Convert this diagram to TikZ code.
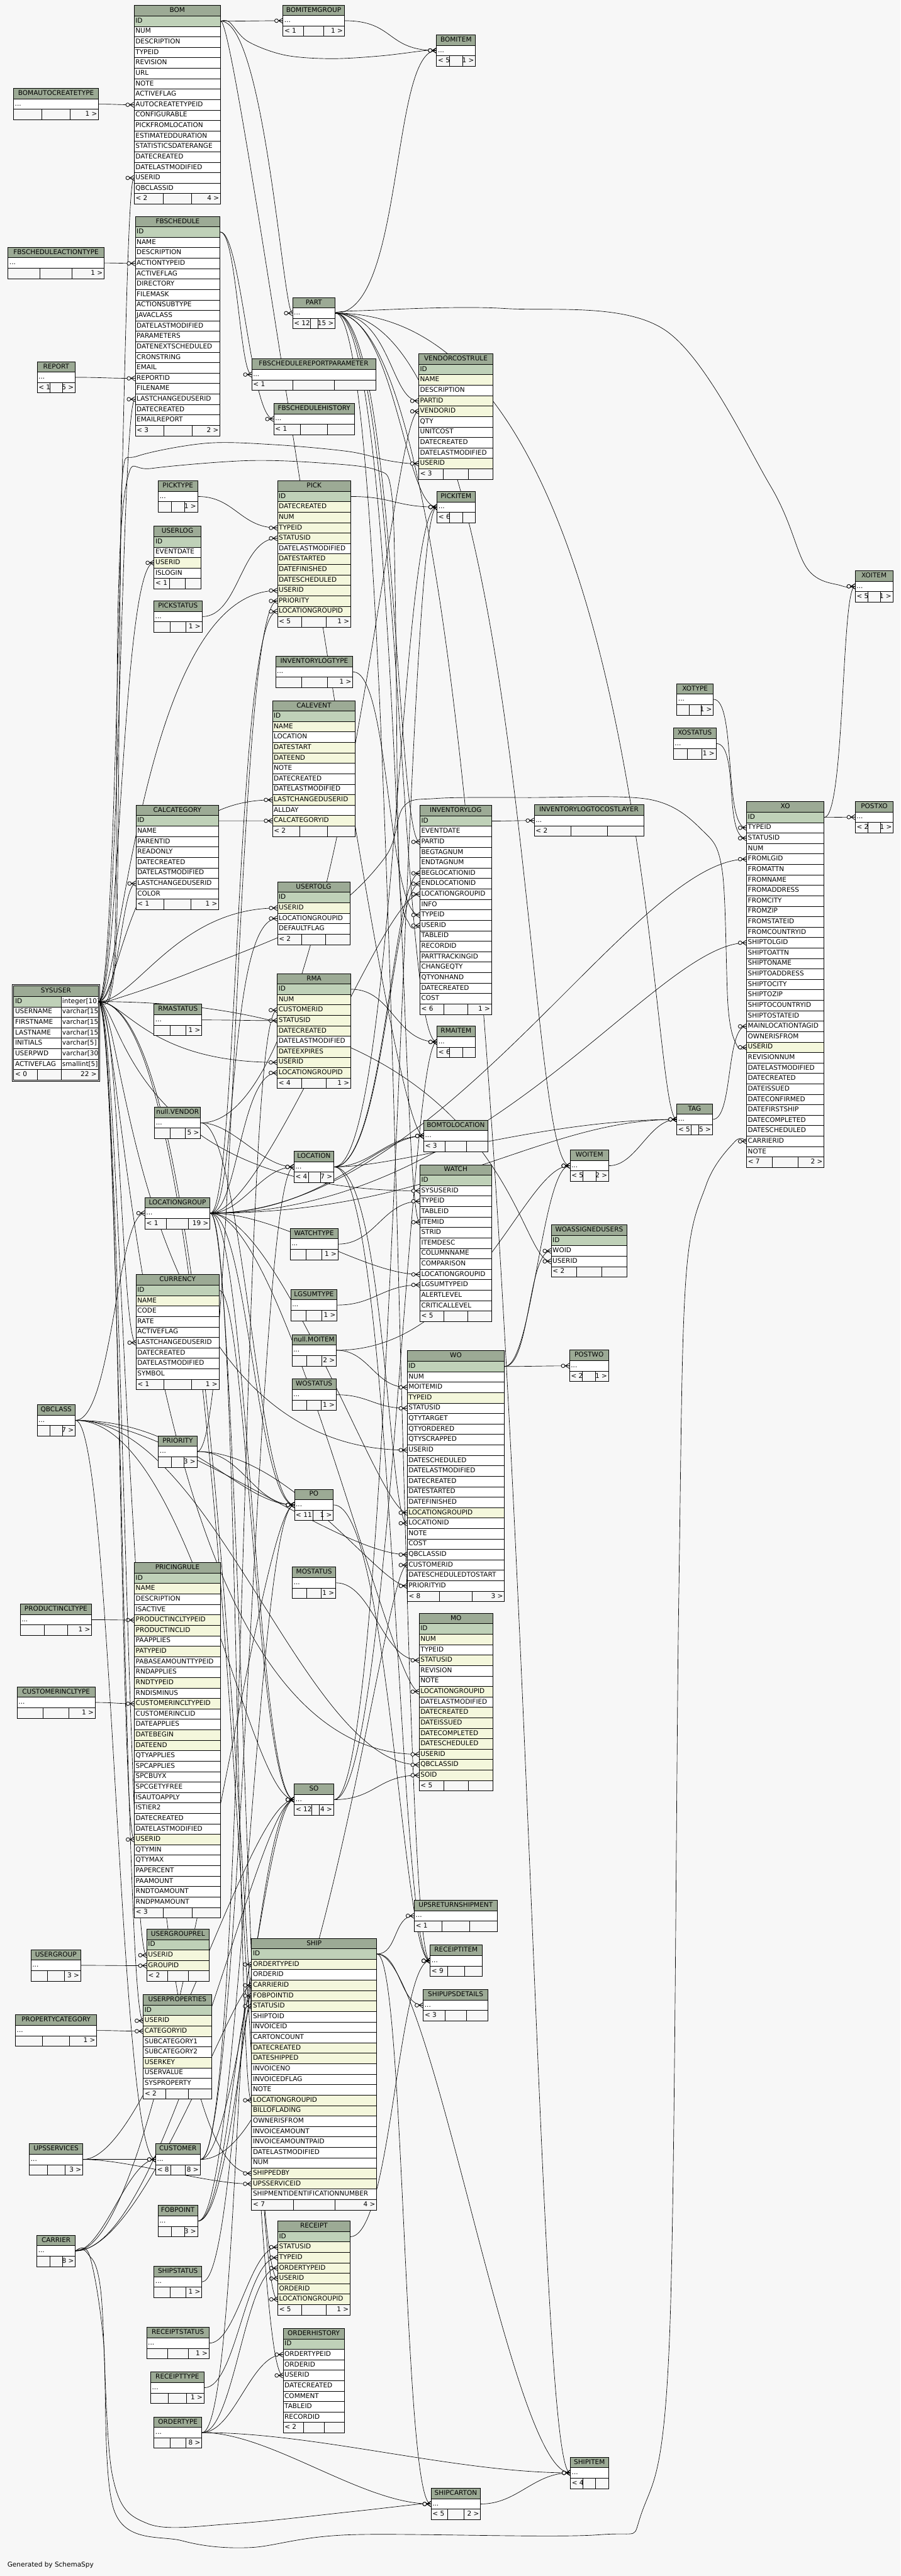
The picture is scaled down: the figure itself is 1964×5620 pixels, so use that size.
\documentclass[tikz,border=0pt]{standalone}
\usepackage{fontspec}
\setmainfont{DejaVu Sans}
\usetikzlibrary{calc}
\definecolor{bgc}{HTML}{F7F7F7}
\definecolor{hdrc}{HTML}{9CAA95}
\definecolor{pk}{HTML}{BFD1B8}
\definecolor{yl}{HTML}{F4F7DC}
\definecolor{wt}{HTML}{FFFFFF}
\pgfdeclarelayer{bglayer}
\pgfdeclarelayer{edgelayer}
\pgfsetlayers{bglayer,edgelayer,main}
\newcommand{\tfont}{\fontsize{14.4}{16}\selectfont}
\newcommand{\dd}{...}
\def\rh{22.8}
\newcount\nrows
\tikzset{
  tbl/.style={draw=black, line width=1.1pt},
  cell/.style={tbl, inner xsep=3pt, inner ysep=0pt, minimum height=22.8pt, text height=10.6pt, text depth=3.2pt, align=left, font=\tfont},
  hdr/.style={cell, fill=hdrc, align=center},
  ftr/.style={tbl, fill=bgc, minimum height=22.8pt, inner sep=0pt},
  ftxt/.style={inner xsep=2pt, inner ysep=0pt, font=\tfont, text height=10.6pt, text depth=3.2pt},
  fkl/.style={draw=black, line width=0.9pt},
  mk/.style={draw=black, line width=1.1pt}
}
% table: [dividers]{id}{x}{y}{w}{title}{rows}{footer left}{footer right}
\newcommand{\dbt}[9][0.3333/0.6667]{%
  \pgfmathsetmacro\tw{#5-6}%
  \node[hdr, text width=\tw pt] (#2) at ({#3+#5/2},{#4+0.5*\rh}) {#6};%
  \foreach[count=\i] \rc/\rt in {#7}{%
    \node[cell, fill=\rc, text width=\tw pt] (#2-\i) at ({#3+#5/2},{#4+(\i+0.5)*\rh}) {\rt};%
    \global\nrows=\i\relax}%
  \pgfmathsetmacro\fy{#4+(\the\nrows+1.5)*\rh}%
  \node[ftr, minimum width=#5pt] (#2-f) at ({#3+#5/2},\fy) {};%
  \foreach \fa/\fb in {#1}{%
    \draw[tbl] ({#3+\fa*#5},{\fy-\rh/2}) -- ({#3+\fa*#5},{\fy+\rh/2});%
    \draw[tbl] ({#3+\fb*#5},{\fy-\rh/2}) -- ({#3+\fb*#5},{\fy+\rh/2});}%
  \node[ftxt, anchor=west] (#2-fl) at ({#3+1},\fy) {#8};%
  \node[ftxt, anchor=east] (#2-fr) at ({#3+#5-1},\fy) {#9};%
}
\newcommand{\crow}[1]{\draw[mk] (#1.west) ++(-9,0) -- ++(9,-5.5) (#1.west) ++(-9,0) -- ++(9,0) (#1.west) ++(-9,0) -- ++(9,5.5); \draw[mk, fill=bgc] (#1.west) ++(-13.5,0) circle[radius=4pt];}
\newcommand{\fk}[4]{\draw[fkl] (#1.east) .. controls +(#3,0) and +(-#4,0) .. (#2.west); \crow{#2}}
\newcommand{\fkw}[3]{\draw[fkl] plot[smooth, tension=0.55] coordinates {(#1.east) #3 (#2.west)}; \crow{#2}}
\begin{document}
\begin{tikzpicture}[x=1pt, y=-1pt]
\begin{pgfonlayer}{bglayer}
\fill[bgc] (0,0) rectangle (1964,5620);
\end{pgfonlayer}
\useasboundingbox (0,0) rectangle (1964,5620);

% ---------------- tables ----------------
\dbt{bom}{292.5}{12}{188.5}{BOM}{pk/ID,wt/NUM,wt/DESCRIPTION,wt/TYPEID,wt/REVISION,wt/URL,wt/NOTE,wt/ACTIVEFLAG,wt/AUTOCREATETYPEID,wt/CONFIGURABLE,wt/PICKFROMLOCATION,wt/ESTIMATEDDURATION,wt/STATISTICSDATERANGE,wt/DATECREATED,wt/DATELASTMODIFIED,wt/USERID,wt/QBCLASSID}{< 2}{4 >}
\dbt{bomitemgroup}{617}{11}{134}{BOMITEMGROUP}{wt/\dd}{< 1}{1 >}
\dbt{bomitem}{952}{76}{85}{BOMITEM}{wt/\dd}{< 5}{1 >}
\dbt{bomautocreatetype}{29.5}{193}{185.5}{BOMAUTOCREATETYPE}{wt/\dd}{}{1 >}
\dbt{fbschedule}{295}{472}{185}{FBSCHEDULE}{pk/ID,wt/NAME,wt/DESCRIPTION,wt/ACTIONTYPEID,wt/ACTIVEFLAG,wt/DIRECTORY,wt/FILEMASK,wt/ACTIONSUBTYPE,wt/JAVACLASS,wt/DATELASTMODIFIED,wt/PARAMETERS,wt/DATENEXTSCHEDULED,wt/CRONSTRING,wt/EMAIL,wt/REPORTID,wt/FILENAME,wt/LASTCHANGEDUSERID,wt/DATECREATED,wt/EMAILREPORT}{< 3}{2 >}
\dbt{fbscheduleactiontype}{17.5}{539.5}{209.5}{FBSCHEDULEACTIONTYPE}{wt/\dd}{}{1 >}
\dbt{report}{81}{789}{83}{REPORT}{wt/\dd}{< 1}{5 >}
\dbt[0.42/0.59]{part}{638}{649}{93}{PART}{wt/\dd}{< 12}{15 >}
\dbt{fbschedulereportparameter}{549}{783}{270}{FBSCHEDULEREPORTPARAMETER}{wt/\dd}{< 1}{}
\dbt{fbschedulehistory}{597}{880}{176}{FBSCHEDULEHISTORY}{wt/\dd}{< 1}{}
\dbt{vendorcostrule}{913}{772}{162}{VENDORCOSTRULE}{pk/ID,yl/NAME,wt/DESCRIPTION,yl/PARTID,yl/VENDORID,wt/QTY,wt/UNITCOST,wt/DATECREATED,wt/DATELASTMODIFIED,yl/USERID}{< 3}{}
\dbt{picktype}{345}{1049}{86}{PICKTYPE}{wt/\dd}{}{1 >}
\dbt{pick}{605}{1049}{160}{PICK}{pk/ID,yl/DATECREATED,yl/NUM,yl/TYPEID,yl/STATUSID,wt/DATELASTMODIFIED,yl/DATESTARTED,yl/DATEFINISHED,yl/DATESCHEDULED,yl/USERID,yl/PRIORITY,yl/LOCATIONGROUPID}{< 5}{1 >}
\dbt{pickitem}{953}{1072}{83}{PICKITEM}{wt/\dd}{< 6}{}
\dbt{userlog}{336}{1148}{102}{USERLOG}{pk/ID,wt/EVENTDATE,yl/USERID,wt/ISLOGIN}{< 1}{}
\dbt{pickstatus}{335.5}{1311}{105}{PICKSTATUS}{wt/\dd}{}{1 >}
\dbt{inventorylogtype}{601}{1431.5}{168.5}{INVENTORYLOGTYPE}{wt/\dd}{}{1 >}
\dbt{calevent}{594}{1528.5}{181}{CALEVENT}{pk/ID,yl/NAME,wt/LOCATION,yl/DATESTART,yl/DATEEND,wt/NOTE,wt/DATECREATED,wt/DATELASTMODIFIED,yl/LASTCHANGEDUSERID,wt/ALLDAY,yl/CALCATEGORYID}{< 2}{}
\dbt{calcategory}{296.5}{1756.5}{180.5}{CALCATEGORY}{pk/ID,wt/NAME,wt/PARENTID,wt/READONLY,wt/DATECREATED,wt/DATELASTMODIFIED,wt/LASTCHANGEDUSERID,wt/COLOR}{< 1}{1 >}
\dbt{usertolg}{605}{1924}{158}{USERTOLG}{pk/ID,yl/USERID,wt/LOCATIONGROUPID,wt/DEFAULTFLAG}{< 2}{}
\dbt{inventorylog}{915.6}{1757}{156.4}{INVENTORYLOG}{pk/ID,wt/EVENTDATE,wt/PARTID,wt/BEGTAGNUM,wt/ENDTAGNUM,wt/BEGLOCATIONID,wt/ENDLOCATIONID,wt/LOCATIONGROUPID,wt/INFO,wt/TYPEID,wt/USERID,wt/TABLEID,wt/RECORDID,wt/PARTTRACKINGID,wt/CHANGEQTY,wt/QTYONHAND,wt/DATECREATED,wt/COST}{< 6}{1 >}
\dbt{xoitem}{1865}{1245}{82}{XOITEM}{wt/\dd}{< 5}{1 >}
\dbt{xotype}{1476}{1491.5}{79.5}{XOTYPE}{wt/\dd}{}{1 >}
\dbt{xostatus}{1468.5}{1588}{93}{XOSTATUS}{wt/\dd}{}{1 >}
\dbt{inventorylogtocostlayer}{1165}{1756}{238.5}{INVENTORYLOGTOCOSTLAYER}{wt/\dd}{< 2}{}
\dbt{xo}{1628}{1749}{169}{XO}{pk/ID,wt/TYPEID,wt/STATUSID,wt/NUM,wt/FROMLGID,wt/FROMATTN,wt/FROMNAME,wt/FROMADDRESS,wt/FROMCITY,wt/FROMZIP,wt/FROMSTATEID,wt/FROMCOUNTRYID,wt/SHIPTOLGID,wt/SHIPTOATTN,wt/SHIPTONAME,wt/SHIPTOADDRESS,wt/SHIPTOCITY,wt/SHIPTOZIP,wt/SHIPTOCOUNTRYID,wt/SHIPTOSTATEID,wt/MAINLOCATIONTAGID,wt/OWNERISFROM,yl/USERID,wt/REVISIONNUM,wt/DATELASTMODIFIED,wt/DATECREATED,wt/DATEISSUED,wt/DATECONFIRMED,wt/DATEFIRSTSHIP,wt/DATECOMPLETED,wt/DATESCHEDULED,wt/CARRIERID,wt/NOTE}{< 7}{2 >}
\dbt{postxo}{1865}{1748.5}{83}{POSTXO}{wt/\dd}{< 2}{1 >}
\dbt{rmastatus}{335.7}{2191}{104.5}{RMASTATUS}{wt/\dd}{}{1 >}
\dbt{rma}{604.6}{2124}{160.4}{RMA}{pk/ID,yl/NUM,yl/CUSTOMERID,yl/STATUSID,yl/DATECREATED,wt/DATELASTMODIFIED,yl/DATEEXPIRES,yl/USERID,yl/LOCATIONGROUPID}{< 4}{1 >}
\dbt{nullvendor}{337}{2415.5}{100.5}{null.VENDOR}{wt/\dd}{}{5 >}
\dbt{rmaitem}{953}{2239}{83}{RMAITEM}{wt/\dd}{< 6}{}
\dbt{bomtolocation}{924}{2444}{140}{BOMTOLOCATION}{wt/\dd}{< 3}{}
\dbt[0.40/0.62]{tag}{1476}{2408}{77.5}{TAG}{wt/\dd}{< 5}{5 >}
\dbt[0.36/0.67]{location}{641}{2511.6}{87}{LOCATION}{wt/\dd}{< 4}{7 >}
\dbt{locationgroup}{316}{2612.5}{142}{LOCATIONGROUP}{wt/\dd}{< 1}{19 >}
\dbt{woitem}{1243}{2509}{84.5}{WOITEM}{wt/\dd}{< 5}{2 >}
\dbt{watch}{915.6}{2541}{156.4}{WATCH}{pk/ID,wt/SYSUSERID,wt/TYPEID,wt/TABLEID,wt/ITEMID,wt/STRID,wt/ITEMDESC,wt/COLUMNNAME,wt/COMPARISON,wt/LOCATIONGROUPID,wt/LGSUMTYPEID,wt/ALERTLEVEL,wt/CRITICALLEVEL}{< 5}{}
\dbt{watchtype}{632.7}{2680}{104.3}{WATCHTYPE}{wt/\dd}{}{1 >}
\dbt{woassignedusers}{1202}{2672}{165.5}{WOASSIGNEDUSERS}{pk/ID,wt/WOID,wt/USERID}{< 2}{}
\dbt{lgsumtype}{634}{2813}{101}{LGSUMTYPE}{wt/\dd}{}{1 >}
\dbt{currency}{296.6}{2781}{181}{CURRENCY}{pk/ID,yl/NAME,wt/CODE,wt/RATE,wt/ACTIVEFLAG,wt/LASTCHANGEDUSERID,wt/DATECREATED,wt/DATELASTMODIFIED,wt/SYMBOL}{< 1}{1 >}
\dbt{nullmoitem}{636.5}{2911.6}{97}{null.MOITEM}{wt/\dd}{}{2 >}
\dbt{wo}{888}{2947}{212}{WO}{pk/ID,wt/NUM,wt/MOITEMID,yl/TYPEID,wt/STATUSID,wt/QTYTARGET,wt/QTYORDERED,wt/QTYSCRAPPED,wt/USERID,wt/DATESCHEDULED,wt/DATELASTMODIFIED,wt/DATECREATED,wt/DATESTARTED,wt/DATEFINISHED,yl/LOCATIONGROUPID,wt/LOCATIONID,wt/NOTE,wt/COST,wt/QBCLASSID,wt/CUSTOMERID,wt/DATESCHEDULEDTOSTART,wt/PRIORITYID}{< 8}{3 >}
\dbt{postwo}{1242}{2945.6}{85}{POSTWO}{wt/\dd}{< 2}{1 >}
\dbt{wostatus}{636.6}{3008.6}{96.4}{WOSTATUS}{wt/\dd}{}{1 >}
\dbt{qbclass}{81}{3064.5}{83}{QBCLASS}{wt/\dd}{}{7 >}
\dbt{priority}{345.5}{3132.5}{84}{PRIORITY}{wt/\dd}{}{3 >}
\dbt[0.48/0.72]{po}{642}{3249}{85}{PO}{wt/\dd}{< 11}{1 >}
\dbt{mostatus}{637.5}{3419}{94.5}{MOSTATUS}{wt/\dd}{}{1 >}
\dbt{pricingrule}{293}{3409}{188}{PRICINGRULE}{pk/ID,yl/NAME,wt/DESCRIPTION,wt/ISACTIVE,yl/PRODUCTINCLTYPEID,yl/PRODUCTINCLID,wt/PAAPPLIES,yl/PATYPEID,wt/PABASEAMOUNTTYPEID,wt/RNDAPPLIES,yl/RNDTYPEID,wt/RNDISMINUS,yl/CUSTOMERINCLTYPEID,wt/CUSTOMERINCLID,wt/DATEAPPLIES,yl/DATEBEGIN,yl/DATEEND,wt/QTYAPPLIES,wt/SPCAPPLIES,wt/SPCBUYX,wt/SPCGETYFREE,wt/ISAUTOAPPLY,wt/ISTIER2,wt/DATECREATED,wt/DATELASTMODIFIED,yl/USERID,wt/QTYMIN,wt/QTYMAX,wt/PAPERCENT,wt/PAAMOUNT,wt/RNDTOAMOUNT,wt/RNDPMAMOUNT}{< 3}{}
\dbt{productincltype}{44}{3499.5}{156}{PRODUCTINCLTYPE}{wt/\dd}{}{1 >}
\dbt{mo}{914}{3519.6}{161}{MO}{pk/ID,yl/NUM,wt/TYPEID,yl/STATUSID,wt/REVISION,wt/NOTE,yl/LOCATIONGROUPID,wt/DATELASTMODIFIED,yl/DATECREATED,yl/DATEISSUED,yl/DATECOMPLETED,yl/DATESCHEDULED,yl/USERID,yl/QBCLASSID,yl/SOID}{< 5}{}
\dbt{customerincltype}{37.4}{3680}{170}{CUSTOMERINCLTYPE}{wt/\dd}{}{1 >}
\dbt[0.45/0.64]{so}{641.7}{3892}{86}{SO}{wt/\dd}{< 12}{4 >}
\dbt{upsreturnshipment}{903.5}{4145.4}{180.5}{UPSRETURNSHIPMENT}{wt/\dd}{< 1}{}
\dbt{usergrouprel}{320}{4208.6}{136}{USERGROUPREL}{pk/ID,yl/USERID,yl/GROUPID}{< 2}{}
\dbt{usergroup}{67.5}{4253.5}{108.5}{USERGROUP}{wt/\dd}{}{3 >}
\dbt{ship}{548.6}{4228.7}{273}{SHIP}{pk/ID,yl/ORDERTYPEID,wt/ORDERID,yl/CARRIERID,yl/FOBPOINTID,yl/STATUSID,wt/SHIPTOID,wt/INVOICEID,wt/CARTONCOUNT,yl/DATECREATED,yl/DATESHIPPED,wt/INVOICENO,wt/INVOICEDFLAG,wt/NOTE,yl/LOCATIONGROUPID,yl/BILLOFLADING,wt/OWNERISFROM,wt/INVOICEAMOUNT,wt/INVOICEAMOUNTPAID,wt/DATELASTMODIFIED,wt/NUM,yl/SHIPPEDBY,yl/UPSSERVICEID,wt/SHIPMENTIDENTIFICATIONNUMBER}{< 7}{4 >}
\dbt{receiptitem}{938}{4243.5}{113}{RECEIPTITEM}{wt/\dd}{< 9}{}
\dbt{shipupsdetails}{923}{4340.6}{141}{SHIPUPSDETAILS}{wt/\dd}{< 3}{}
\dbt{userproperties}{312.4}{4351.6}{148.6}{USERPROPERTIES}{pk/ID,yl/USERID,yl/CATEGORYID,wt/SUBCATEGORY1,wt/SUBCATEGORY2,yl/USERKEY,wt/USERVALUE,wt/SYSPROPERTY}{< 2}{}
\dbt{propertycategory}{33.7}{4395.6}{177.3}{PROPERTYCATEGORY}{wt/\dd}{}{1 >}
\dbt{upsservices}{64}{4677}{116.4}{UPSSERVICES}{wt/\dd}{}{3 >}
\dbt{customer}{339.6}{4677}{96.8}{CUSTOMER}{wt/\dd}{< 8}{8 >}
\dbt{fobpoint}{344.6}{4811.5}{86.4}{FOBPOINT}{wt/\dd}{}{3 >}
\dbt{carrier}{80.4}{4876.4}{84}{CARRIER}{wt/\dd}{}{8 >}
\dbt{receipt}{605.7}{4845.5}{157.7}{RECEIPT}{pk/ID,yl/STATUSID,yl/TYPEID,yl/ORDERTYPEID,yl/USERID,yl/ORDERID,yl/LOCATIONGROUPID}{< 5}{1 >}
\dbt{shipstatus}{335.8}{4944}{104.2}{SHIPSTATUS}{wt/\dd}{}{1 >}
\dbt{receiptstatus}{319.7}{5077.7}{136.3}{RECEIPTSTATUS}{wt/\dd}{}{1 >}
\dbt{orderhistory}{617.4}{5079.8}{133.6}{ORDERHISTORY}{pk/ID,wt/ORDERTYPEID,wt/ORDERID,wt/USERID,wt/DATECREATED,wt/COMMENT,wt/TABLEID,wt/RECORDID}{< 2}{}
\dbt{receipttype}{328.5}{5175}{116.5}{RECEIPTTYPE}{wt/\dd}{}{1 >}
\dbt{ordertype}{335.8}{5272.8}{104.2}{ORDERTYPE}{wt/\dd}{}{8 >}
\dbt{shipitem}{1243.8}{5360.7}{83}{SHIPITEM}{wt/\dd}{< 4}{}
\dbt{shipcarton}{940}{5428.6}{108}{SHIPCARTON}{wt/\dd}{< 5}{2 >}

% SYSUSER (two columns, double border)
\node[hdr, text width=178pt] (sysuser) at (122,{2151+0.5*\rh}) {SYSUSER};
\foreach[count=\i] \rc/\rn/\ry in {pk/ID/integer[10],wt/USERNAME/varchar[15],wt/FIRSTNAME/varchar[15],wt/LASTNAME/varchar[15],wt/INITIALS/varchar[5],wt/USERPWD/varchar[30],wt/ACTIVEFLAG/smallint[5]}{
  \node[cell, fill=\rc, text width=178pt] (sysuser-\i) at (122,{2151+(\i+0.5)*\rh}) {\rn};
  \fill[white] (133.6,{2151+\i*\rh}) rectangle (214,{2151+(\i+1)*\rh});
  \begin{scope}
    \clip (133.6,{2151+\i*\rh}) rectangle (213,{2151+(\i+1)*\rh});
    \node[ftxt, anchor=west] (sysuser-t\i) at (133.6,{2151+(\i+0.5)*\rh}) {\ry};
  \end{scope}
  \draw[tbl] (133.6,{2151+\i*\rh}) rectangle (214,{2151+(\i+1)*\rh});
}
\node[ftr, minimum width=184pt] (sysuser-f) at (122,{2151+8.5*\rh}) {};
\draw[tbl] (81.6,{2151+8*\rh}) -- (81.6,{2151+9*\rh});
\draw[tbl] (133.6,{2151+8*\rh}) -- (133.6,{2151+9*\rh});
\node[ftxt, anchor=west] (sysuser-fl) at (31,{2151+8.5*\rh}) {< 0};
\node[ftxt, anchor=east] (sysuser-fr) at (213,{2151+8.5*\rh}) {22 >};
\draw[line width=1.8pt] (26.5,2147.5) rectangle (217.5,{2151+9*\rh+3.5});

\node[ftxt, anchor=west] (gen) at (14,5596) {Generated by SchemaSpy};

% ---------------- relationships ----------------
\begin{pgfonlayer}{edgelayer}
% BOM
\fk{bom-1}{bomitemgroup-1}{50}{50}
\fk{bomitemgroup-1}{bomitem-1}{110}{110}
\fkw{bom-1}{bomitem-1}{(500,48) (540,90) (620,120) (720,128) (830,122) (930,110)}
\fk{bom-1}{part-1}{95}{20}
\fk{bom-1}{bomtolocation-1}{40}{80}
\fk{bomautocreatetype-1}{bom-9}{35}{35}
\fk{sysuser-1}{bom-16}{45}{25}
% FBSCHEDULE
\fk{fbscheduleactiontype-1}{fbschedule-4}{30}{30}
\fk{report-1}{fbschedule-15}{60}{60}
\fk{sysuser-1}{fbschedule-17}{45}{30}
\fk{fbschedule-1}{fbschedulereportparameter-1}{35}{25}
\fk{fbschedule-1}{fbschedulehistory-1}{45}{50}
% PART children
\fk{part-1}{vendorcostrule-4}{120}{60}
\fk{part-1}{pickitem-1}{130}{70}
\fk{part-1}{inventorylog-3}{130}{50}
\fk{part-1}{bomitem-1}{150}{100}
\fkw{part-1}{xoitem-1}{(780,678) (1100,673) (1450,720) (1680,1060) (1760,1240) (1835,1278)}
\fk{part-1}{rmaitem-1}{140}{80}
\fk{part-1}{tag-1}{690}{60}
\fk{part-1}{woitem-1}{420}{100}
\fk{part-1}{receiptitem-1}{140}{70}
\fk{part-1}{shipitem-1}{420}{100}
\fk{part-1}{watch-5}{140}{40}
% VENDORCOSTRULE
\fk{nullvendor-1}{vendorcostrule-5}{300}{60}
\fkw{sysuser-1}{vendorcostrule-10}{(240,2175) (255,2000) (262,1300) (268,1030) (300,995) (449,967) (596,970) (760,985) (842,1004) (890,1011)}
% PICK
\fk{picktype-1}{pick-4}{80}{80}
\fk{pickstatus-1}{pick-5}{80}{80}
\fk{sysuser-1}{pick-10}{50}{300}
\fk{priority-1}{pick-11}{80}{90}
\fk{locationgroup-1}{pick-12}{60}{90}
\fk{pick-1}{pickitem-1}{90}{90}
\fk{location-1}{pickitem-1}{130}{80}
\fk{so-1}{pickitem-1}{130}{70}
\fk{sysuser-1}{userlog-3}{45}{70}
% CALENDAR
\fk{sysuser-1}{calevent-9}{50}{320}
\fk{calcategory-1}{calevent-11}{50}{50}
\fk{sysuser-1}{calcategory-7}{45}{30}
\fk{sysuser-1}{usertolg-2}{80}{220}
\fk{locationgroup-1}{usertolg-3}{60}{110}
% INVENTORYLOG
\fk{location-1}{inventorylog-6}{110}{60}
\fk{location-1}{inventorylog-7}{110}{60}
\fk{locationgroup-1}{inventorylog-8}{120}{80}
\fk{inventorylogtype-1}{inventorylog-10}{80}{70}
\fkw{sysuser-1}{inventorylog-11}{(238,2170) (252,2000) (258,1300) (279,1040) (330,1022) (537,1005) (700,1010) (820,1025) (853,1070) (862,1300) (870,1900) (893,2017)}
\fk{inventorylog-1}{inventorylogtocostlayer-1}{40}{40}
% XO
\fk{xotype-1}{xo-2}{50}{50}
\fk{xostatus-1}{xo-3}{50}{50}
\fk{locationgroup-1}{xo-5}{500}{250}
\fk{locationgroup-1}{xo-13}{600}{200}
\fk{xo-1}{postxo-1}{30}{30}
\fk{xo-1}{xoitem-1}{45}{30}
\fk{tag-1}{xo-21}{45}{45}
\fkw{sysuser-1}{xo-23}{(250,2180) (420,2120) (700,2000) (840,1870) (880,1760) (950,1742) (1150,1740) (1416,1744) (1530,1810) (1575,1900) (1588,2200) (1608,2283)}
\fkw{carrier-1}{xo-32}{(195,4920) (225,5100) (250,5480) (397,5543) (543,5558) (763,5530) (1306,5530) (1400,5480) (1460,5100) (1480,3500) (1495,2800) (1540,2585) (1603,2490)}
% RMA
\fk{customer-1}{rma-3}{100}{80}
\fk{rmastatus-1}{rma-4}{80}{80}
\fk{sysuser-1}{rma-8}{60}{280}
\fk{locationgroup-1}{rma-9}{60}{80}
\fk{rma-1}{rmaitem-1}{90}{90}
\fk{so-1}{rmaitem-1}{120}{60}
% LOCATION
\fk{locationgroup-1}{location-1}{70}{70}
\fk{nullvendor-1}{location-1}{70}{70}
\fk{customer-1}{location-1}{90}{80}
\fk{location-1}{bomtolocation-1}{80}{80}
\fk{locationgroup-1}{bomtolocation-1}{250}{100}
\fk{location-1}{wo-16}{110}{40}
\fk{location-1}{tag-1}{150}{300}
\fk{locationgroup-1}{tag-1}{500}{300}
\fk{nullvendor-1}{po-1}{90}{80}
\fk{location-1}{receiptitem-1}{130}{70}
% WATCH
\fk{sysuser-1}{watch-2}{50}{640}
\fk{watchtype-1}{watch-3}{80}{80}
\fk{locationgroup-1}{watch-10}{150}{120}
\fk{lgsumtype-1}{watch-11}{80}{80}
% WO
\fk{wo-1}{woassignedusers-2}{55}{50}
\fk{sysuser-1}{woassignedusers-3}{900}{80}
\fk{wo-1}{woitem-1}{60}{60}
\fk{wo-1}{postwo-1}{50}{50}
\fk{nullmoitem-1}{wo-3}{70}{70}
\fk{nullmoitem-1}{woitem-1}{300}{100}
\fk{woitem-1}{tag-1}{60}{60}
\fk{wostatus-1}{wo-5}{70}{70}
\fk{sysuser-1}{wo-9}{60}{600}
\fk{locationgroup-1}{wo-15}{150}{60}
\fk{qbclass-1}{wo-19}{200}{150}
\fk{customer-1}{wo-20}{250}{50}
\fk{priority-1}{wo-22}{200}{60}
% MO
\fk{mostatus-1}{mo-4}{80}{80}
\fk{locationgroup-1}{mo-7}{160}{60}
\fk{sysuser-1}{mo-13}{60}{620}
\fk{qbclass-1}{mo-14}{300}{250}
\fk{so-1}{mo-15}{90}{90}
% PRICINGRULE
\fk{productincltype-1}{pricingrule-5}{40}{40}
\fk{customerincltype-1}{pricingrule-13}{40}{40}
\fk{sysuser-1}{pricingrule-26}{45}{30}
% PO / SO
\fk{qbclass-1}{po-1}{250}{120}
\fk{priority-1}{po-1}{100}{90}
\fk{locationgroup-1}{po-1}{80}{80}
\fk{fobpoint-1}{po-1}{90}{80}
\fk{carrier-1}{po-1}{200}{80}
\fk{currency-1}{so-1}{60}{80}
\fk{qbclass-1}{so-1}{250}{100}
\fk{customer-1}{so-1}{80}{60}
\fk{locationgroup-1}{so-1}{80}{80}
\fk{fobpoint-1}{so-1}{90}{80}
\fk{upsservices-1}{so-1}{150}{100}
\fk{carrier-1}{so-1}{200}{80}
\fk{qbclass-1}{locationgroup-1}{80}{60}
\fk{qbclass-1}{customer-1}{80}{80}
\fk{po-1}{receiptitem-1}{120}{60}
% USERS
\fk{usergroup-1}{usergrouprel-3}{60}{60}
\fk{sysuser-1}{usergrouprel-2}{45}{40}
\fk{sysuser-1}{userproperties-2}{45}{40}
\fk{propertycategory-1}{userproperties-3}{40}{40}
\fk{sysuser-1}{currency-6}{45}{30}
% SHIP
\fk{ordertype-1}{ship-2}{70}{30}
\fk{carrier-1}{ship-4}{150}{40}
\fk{fobpoint-1}{ship-5}{60}{30}
\fk{shipstatus-1}{ship-6}{60}{30}
\fk{locationgroup-1}{ship-15}{60}{30}
\fk{sysuser-1}{ship-22}{60}{280}
\fk{upsservices-1}{ship-23}{100}{100}
\fk{upsservices-1}{customer-1}{60}{60}
\fk{carrier-1}{customer-1}{60}{60}
\fk{ship-1}{upsreturnshipment-1}{45}{45}
\fk{ship-1}{shipupsdetails-1}{50}{50}
\fk{ship-1}{shipitem-1}{120}{130}
\fk{ship-1}{shipcarton-1}{60}{60}
% RECEIPT
\fk{receipt-1}{receiptitem-1}{90}{70}
\fk{receiptstatus-1}{receipt-2}{60}{60}
\fk{receipttype-1}{receipt-3}{70}{70}
\fk{ordertype-1}{receipt-4}{70}{70}
\fk{sysuser-1}{receipt-5}{300}{70}
\fk{locationgroup-1}{receipt-7}{60}{60}
\fk{ordertype-1}{orderhistory-2}{70}{70}
\fk{sysuser-1}{orderhistory-4}{300}{80}
\fk{ordertype-1}{shipitem-1}{250}{250}
\fk{ordertype-1}{shipcarton-1}{150}{150}
\fk{shipcarton-1}{shipitem-1}{80}{80}
\fkw{carrier-1}{shipcarton-1}{(190,4915) (220,5000) (245,5400) (323,5506) (507,5506) (763,5480) (915,5463)}
\end{pgfonlayer}
\end{tikzpicture}
\end{document}
